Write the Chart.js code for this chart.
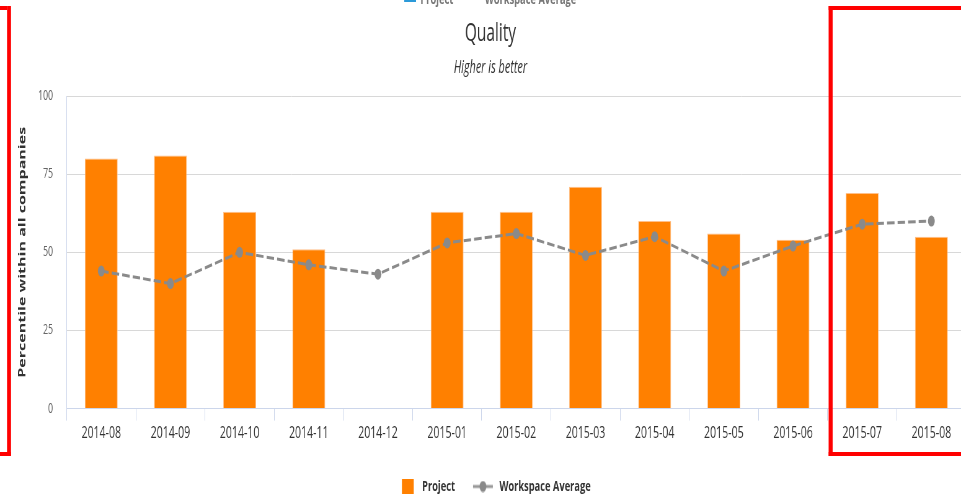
<!DOCTYPE html>
<html>
<head>
<meta charset="utf-8">
<script src="https://cdn.jsdelivr.net/npm/chart.js@4/dist/chart.umd.min.js"></script>
<style>
  html, body { margin: 0; padding: 0; background: #fff; overflow: hidden; width: 961px; height: 504px; }
  /* chart is laid out wide and compressed horizontally */
  #wrap { width: 1580px; height: 504px; transform: scaleX(0.62); transform-origin: 0 0; }
</style>
</head>
<body>
<div id="wrap"><canvas id="quality" width="1580" height="504"></canvas></div>
<script>
const categories = ['2014-08', '2014-09', '2014-10', '2014-11', '2014-12', '2015-01', '2015-02',
  '2015-03', '2015-04', '2015-05', '2015-06', '2015-07', '2015-08'];
const projectValues = [80, 81, 63, 51, null, 63, 63, 71, 60, 56, 54, 69, 55];
const workspaceAverage = [44, 40, 50, 46, 43, 53, 56, 49, 55, 44, 52, 59, 60];
const yTicks = [0, 25, 50, 75, 100];

const SQUEEZE = 0.62;
const FONT = "'Open Sans', 'Liberation Sans', sans-serif";
const ORANGE = '#ff8000';
const GREY = '#8a8a8a';
const ICON_W = 44;

// legend symbols, both the same width so the items space out evenly
function makeBox() {
  const c = document.createElement('canvas');
  c.width = ICON_W; c.height = 15;
  const g = c.getContext('2d');
  g.fillStyle = ORANGE;
  g.fillRect(19, 0, 19, 15);
  return c;
}
function makeLineMarker() {
  const c = document.createElement('canvas');
  c.width = ICON_W; c.height = 12;
  const g = c.getContext('2d');
  g.strokeStyle = '#999';
  g.lineWidth = 3;
  g.beginPath(); g.moveTo(9, 6); g.lineTo(41, 6); g.stroke();
  g.fillStyle = GREY;
  g.beginPath(); g.arc(25, 6, 5.5, 0, Math.PI * 2); g.fill();
  return c;
}
const legendIcons = [makeBox(), makeLineMarker()];

// clipped legend row at the top edge and the red highlight frames
const overlay = {
  id: 'overlay',
  afterDraw(chart) {
    const ctx = chart.ctx;
    const x = chart.scales.x;
    const k = 1 / SQUEEZE;
    ctx.save();
    ctx.fillStyle = '#2b9ad9';
    ctx.fillRect(652, -12, 19, 14);
    ctx.fillStyle = '#777';
    ctx.font = 'bold 15px ' + FONT;
    ctx.fillText('Project', 678, 0);
    ctx.fillText('Workspace Average', 782, 0);
    ctx.fillStyle = '#bbb';
    ctx.fillRect(740, -5, 30, 3);

    // red frames, vertical edges widened so they stay 4px after the squeeze
    ctx.fillStyle = '#ff0000';
    const lw = 4, vw = 4 * k;
    ctx.fillRect(-20, 6, 11.3 + 20, lw);
    ctx.fillRect(11.3, 6, vw, 450);
    ctx.fillRect(-20, 452, 11.3 + 20 + vw, lw);
    const left = (x.getPixelForValue(10) + x.getPixelForValue(11)) / 2 + 1 * k;
    ctx.fillRect(left, 6, 400, lw);
    ctx.fillRect(left, 6, vw, 450);
    ctx.fillRect(left, 452, 400, lw);
    ctx.restore();
  }
};

new Chart(document.getElementById('quality'), {
  data: {
    labels: categories,
    datasets: [
      {
        type: 'line',
        label: 'Workspace Average',
        data: workspaceAverage,
        borderColor: GREY,
        backgroundColor: GREY,
        borderWidth: 3,
        borderDash: [12, 5],
        pointRadius: 5.5,
        pointHoverRadius: 5.5,
        pointBackgroundColor: GREY,
        pointBorderWidth: 0,
        tension: 0,
        order: 0
      },
      {
        type: 'bar',
        label: 'Project',
        data: projectValues,
        backgroundColor: ORANGE,
        borderColor: '#ffc08a',
        borderWidth: 1,
        barPercentage: 0.475,
        categoryPercentage: 1,
        order: 1
      }
    ]
  },
  options: {
    responsive: false,
    animation: false,
    devicePixelRatio: 1,
    layout: { padding: { left: 24, right: 22, top: 0, bottom: 0 } },
    scales: {
      x: {
        offset: true,
        afterFit: (scale) => { scale.height += 14; },
        grid: {
          offset: true,
          drawOnChartArea: false,
          drawTicks: true,
          tickLength: 12,
          color: '#ccd6eb'
        },
        border: { color: '#ccd6eb', width: 1 },
        ticks: { color: '#333', font: { family: FONT, size: 17 }, padding: 2, maxRotation: 0 }
      },
      y: {
        min: 0,
        max: 100,
        afterBuildTicks: (scale) => { scale.ticks = yTicks.map(v => ({ value: v })); },
        grid: { color: '#d8d8d8', drawTicks: false },
        border: { color: '#ccd6eb', width: 1 },
        ticks: { color: '#666', font: { family: FONT, size: 14 }, padding: 22 },
        title: {
          display: true,
          text: 'Percentile within all companies',
          color: '#333',
          font: { family: FONT, size: 16, weight: 'bold' },
          padding: { top: 3, bottom: -6.7 }
        }
      }
    },
    plugins: {
      title: {
        display: true,
        text: 'Quality',
        color: '#333',
        font: { family: FONT, size: 25, weight: 'normal' },
        padding: { top: 19, bottom: 7 }
      },
      subtitle: {
        display: true,
        text: 'Higher is better',
        color: '#333',
        font: { family: FONT, size: 17.5, style: 'italic', weight: 'normal' },
        padding: { top: 2, bottom: 17 }
      },
      legend: {
        position: 'bottom',
        reverse: true,
        labels: {
          usePointStyle: true,
          pointStyleWidth: ICON_W,
          boxHeight: 15,
          color: '#333',
          font: { family: FONT, size: 15, weight: 'bold' },
          padding: 20,
          generateLabels(chart) {
            const items = Chart.defaults.plugins.legend.labels.generateLabels(chart);
            items.forEach(it => {
              it.pointStyle = it.datasetIndex === 1 ? legendIcons[0] : legendIcons[1];
            });
            return items;
          }
        }
      },
      tooltip: { enabled: false }
    }
  },
  plugins: [overlay]
});
</script>
</body>
</html>
